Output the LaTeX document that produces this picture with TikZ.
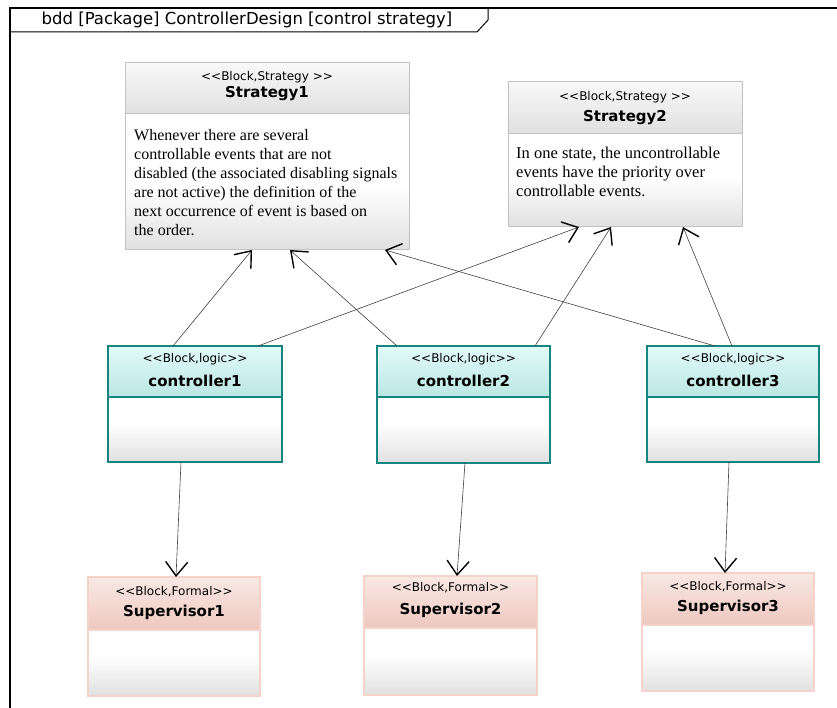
\documentclass[tikz,border=0pt]{standalone}
\usepackage{fontspec}
\setmainfont{Liberation Serif}
\newfontfamily\diagfont{DejaVu Sans}
\usetikzlibrary{arrows.meta,calc}

\definecolor{strline}{HTML}{C2C2C2}
\definecolor{strtop}{HTML}{F8F8F8}
\definecolor{strbot}{HTML}{E0E0E0}
\definecolor{ctrlline}{HTML}{14857F}
\definecolor{ctrltop}{HTML}{E2FAFA}
\definecolor{ctrlbot}{HTML}{BBE7E3}
\definecolor{supline}{HTML}{F5D3CA}
\definecolor{suptop}{HTML}{F9E8E4}
\definecolor{supbot}{HTML}{EEC8BF}

% white compartment, grey only near the bottom
\pgfdeclareverticalshading{bodyshade}{100bp}{color(0bp)=(black!12); color(25bp)=(black!12);
  color(42bp)=(white); color(100bp)=(white)}

\tikzset{
  body/.style={rectangle, anchor=north west, inner sep=0pt, outer sep=0pt, shading=bodyshade},
  head/.style={rectangle, anchor=north west, inner sep=0pt, outer sep=0pt},
  strhead/.style={head, top color=strtop, bottom color=strbot},
  ctrlhead/.style={head, top color=ctrltop, bottom color=ctrlbot},
  suphead/.style={head, top color=suptop, bottom color=supbot},
  strline/.style={draw=strline, line width=1pt},
  ctrlline/.style={draw=ctrlline, line width=1.4pt},
  supline/.style={draw=supline, line width=1.4pt},
  stereo/.style={inner sep=0pt, font=\diagfont\fontsize{12}{14}\selectfont},
  bname/.style={inner sep=0pt, font=\diagfont\bfseries\fontsize{15}{17}\selectfont},
  note/.style={inner sep=0pt, anchor=north west, align=left,
    font=\fontsize{16}{19}\selectfont},
  dep/.style={draw=black!75, line width=0.6pt,
    -{Straight Barb[length=14pt,width=22pt,line width=1.4pt,color=black]}}
}

\begin{document}
\begin{tikzpicture}[x=1pt, y=-1pt]
\useasboundingbox (0,0) rectangle (837,708);

% frame
\draw[line width=1.3pt] (10,708) -- (10,8) -- (837,8);
\draw[line width=1pt] (10,32) -- (477,32) -- (488,20) -- (488,8);
\node[inner sep=0pt, font=\diagfont\fontsize{16.5}{18}\selectfont] (title) at (247,20)
  {bdd [Package] ControllerDesign [control strategy]};

% strategies
\node[body, minimum width=284pt, minimum height=187pt] (s1) at (125,63) {};
\node[strhead, minimum width=284pt, minimum height=51pt] (s1h) at (s1.north west) {};
\node[stereo] (s1st) at ($(s1h.north)+(0,14)$) {<{}<Block,Strategy >{}>};
\node[bname] (s1nm) at ($(s1h.north)+(0,31)$) {Strategy1};
\node[note] (s1tx) at (134,129) {Whenever there are several\\
  controllable events that are not\\
  disabled (the associated disabling signals\\
  are not active) the definition of the\\
  next occurrence of event is based on\\
  the order.};

\node[body, minimum width=234pt, minimum height=145pt] (s2) at (508,82) {};
\node[strhead, minimum width=234pt, minimum height=52pt] (s2h) at (s2.north west) {};
\node[stereo] (s2st) at ($(s2h.north)+(0,15)$) {<{}<Block,Strategy >{}>};
\node[bname] (s2nm) at ($(s2h.north)+(0,36)$) {Strategy2};
\node[note, font=\fontsize{16.5}{19}\selectfont] (s2tx) at (516,147) {In one state, the uncontrollable\\
  events have the priority over\\
  controllable events.};

% controllers
\node[body, minimum width=174pt, minimum height=116pt] (c1) at (108,346) {};
\node[ctrlhead, minimum width=174pt, minimum height=51pt] (c1h) at (c1.north west) {};
\node[stereo] (c1st) at ($(c1h.north)+(0,13)$) {<{}<Block,logic>{}>};
\node[bname] (c1nm) at ($(c1h.north)+(0,35)$) {controller1};

\node[body, minimum width=173pt, minimum height=117pt] (c2) at (377,346) {};
\node[ctrlhead, minimum width=173pt, minimum height=51pt] (c2h) at (c2.north west) {};
\node[stereo] (c2st) at ($(c2h.north)+(0,13)$) {<{}<Block,logic>{}>};
\node[bname] (c2nm) at ($(c2h.north)+(0,35)$) {controller2};

\node[body, minimum width=172pt, minimum height=116pt] (c3) at (647,346) {};
\node[ctrlhead, minimum width=172pt, minimum height=51pt] (c3h) at (c3.north west) {};
\node[stereo] (c3st) at ($(c3h.north)+(0,13)$) {<{}<Block,logic>{}>};
\node[bname] (c3nm) at ($(c3h.north)+(0,35)$) {controller3};

% supervisors
\node[body, minimum width=172pt, minimum height=119pt] (p1) at (88,577) {};
\node[suphead, minimum width=172pt, minimum height=53pt] (p1h) at (p1.north west) {};
\node[stereo] (p1st) at ($(p1h.north)+(0,15)$) {<{}<Block,Formal>{}>};
\node[bname] (p1nm) at ($(p1h.north)+(0,35)$) {Supervisor1};

\node[body, minimum width=173pt, minimum height=119pt] (p2) at (364,576) {};
\node[suphead, minimum width=173pt, minimum height=52pt] (p2h) at (p2.north west) {};
\node[stereo] (p2st) at ($(p2h.north)+(0,12)$) {<{}<Block,Formal>{}>};
\node[bname] (p2nm) at ($(p2h.north)+(0,34)$) {Supervisor2};

\node[body, minimum width=172pt, minimum height=118pt] (p3) at (642,573) {};
\node[suphead, minimum width=172pt, minimum height=52pt] (p3h) at (p3.north west) {};
\node[stereo] (p3st) at ($(p3h.north)+(0,14)$) {<{}<Block,Formal>{}>};
\node[bname] (p3nm) at ($(p3h.north)+(0,34)$) {Supervisor3};

% block outlines and compartment lines
\foreach \b/\l in {s1/strline, s2/strline, c1/ctrlline, c2/ctrlline, c3/ctrlline,
                   p1/supline, p2/supline, p3/supline} {
  \draw[\l] (\b.north west) rectangle (\b.south east);
  \draw[\l] (\b h.south west) -- (\b h.south east);
}

% dependencies
\draw[dep] ($(c1.north west)+(65,0)$) -- ($(s1.south west)+(127,0)$);
\draw[dep] ($(c2.north west)+(20,0)$) -- ($(s1.south west)+(165,0)$);
\draw[dep] ($(c3.north west)+(68,0)$) -- ($(s1.south west)+(260,0)$);
\draw[dep] ($(c1.north west)+(150,0)$) -- ($(s2.south west)+(71,0)$);
\draw[dep] ($(c2.north west)+(158,0)$) -- ($(s2.south west)+(103,0)$);
\draw[dep] ($(c3.north west)+(85,0)$) -- ($(s2.south west)+(175,0)$);
\draw[dep] ($(c1.south west)+(73,0)$) -- ($(p1.north west)+(88,0)$);
\draw[dep] ($(c2.south west)+(88,0)$) -- ($(p2.north west)+(93,0)$);
\draw[dep] ($(c3.south west)+(82,0)$) -- ($(p3.north west)+(83,0)$);
\end{tikzpicture}
\end{document}
